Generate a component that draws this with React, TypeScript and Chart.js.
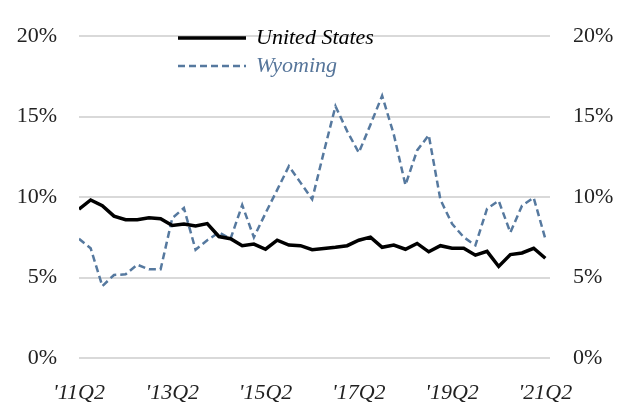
import React, { useEffect, useRef } from "react";
import { Chart, registerables } from "chart.js";

Chart.register(...registerables);

const quarters = [
  "'11Q2", "'11Q3", "'11Q4", "'12Q1", "'12Q2", "'12Q3", "'12Q4", "'13Q1",
  "'13Q2", "'13Q3", "'13Q4", "'14Q1", "'14Q2", "'14Q3", "'14Q4", "'15Q1",
  "'15Q2", "'15Q3", "'15Q4", "'16Q1", "'16Q2", "'16Q3", "'16Q4", "'17Q1",
  "'17Q2", "'17Q3", "'17Q4", "'18Q1", "'18Q2", "'18Q3", "'18Q4", "'19Q1",
  "'19Q2", "'19Q3", "'19Q4", "'20Q1", "'20Q2", "'20Q3", "'20Q4", "'21Q1",
  "'21Q2",
];

const unitedStates = [
  9.25, 9.82, 9.47, 8.82, 8.6, 8.6, 8.72, 8.65, 8.24, 8.33,
  8.2, 8.35, 7.55, 7.41, 6.98, 7.08, 6.76, 7.32, 7.02, 6.98,
  6.73, 6.8, 6.88, 6.98, 7.32, 7.51, 6.88, 7.02, 6.76, 7.12,
  6.6, 6.98, 6.82, 6.82, 6.39, 6.63, 5.69, 6.43, 6.53, 6.82,
  6.2,
];

const wyoming = [
  7.41, 6.82, 4.47, 5.16, 5.2, 5.8, 5.51, 5.51, 8.69, 9.32,
  6.73, 7.32, 7.8, 7.41, 9.51, 7.5, 9.0, 10.45, 11.92, 10.9,
  9.86, 12.8, 15.65, 14.1, 12.76, 14.5, 16.3, 13.9, 10.75, 12.9,
  13.85, 9.84, 8.34, 7.51, 7.0, 9.28, 9.77, 7.8, 9.47, 9.96,
  7.41,
];

const xTickIndexes = [0, 8, 16, 24, 32, 40];
const yTicks = [0, 5, 10, 15, 20];

const seriesNames = ["United States", "Wyoming"];
const seriesColors = ["#000000", "#56799f"];
const legendTextColors = ["#000000", "#56759a"];

const FONT = '"Liberation Serif", Tinos, "Times New Roman", serif';

const legendPlugin = {
  id: "insideLegend",
  afterDraw(chart: any) {
    const ctx = chart.ctx;
    const rows = [38, 66];
    chart.data.datasets.forEach((ds: any, i: number) => {
      const y = rows[i];
      ctx.save();
      ctx.strokeStyle = ds.borderColor;
      ctx.lineWidth = ds.borderWidth;
      ctx.setLineDash(ds.borderDash || []);
      ctx.beginPath();
      ctx.moveTo(178, y);
      ctx.lineTo(246, y);
      ctx.stroke();
      ctx.setLineDash([]);
      ctx.fillStyle = legendTextColors[i];
      ctx.font = `italic 22px ${FONT}`;
      ctx.textBaseline = "middle";
      ctx.textAlign = "left";
      ctx.fillText(ds.label, 256, y);
      ctx.restore();
    });
  },
};

export default function App() {
  const ref = useRef<HTMLCanvasElement>(null);

  useEffect(() => {
    document.body.style.margin = "0";
    let chart: any = null;
    let cancelled = false;
    const build = () => {
      const canvas = ref.current;
      if (!canvas || cancelled) return;
      chart = new Chart(canvas, {
        type: "line",
        data: {
          datasets: [
            {
              label: seriesNames[0],
              data: unitedStates.map((v, i) => ({ x: i, y: v })),
              borderColor: seriesColors[0],
              borderWidth: 3.5,
              pointRadius: 0,
              tension: 0,
              fill: false,
            },
            {
              label: seriesNames[1],
              data: wyoming.map((v, i) => ({ x: i, y: v })),
              borderColor: seriesColors[1],
              borderWidth: 2.5,
              borderDash: [7, 4],
              pointRadius: 0,
              tension: 0,
              fill: false,
            },
          ],
        },
        options: {
          animation: false,
          responsive: false,
          devicePixelRatio: 1,
          layout: { padding: { top: 17, left: 0, right: 0, bottom: 0 } },
          plugins: {
            legend: { display: false },
            tooltip: { enabled: false },
          },
          scales: {
            x: {
              type: "linear",
              min: 0,
              max: 40.4,
              grid: { display: false, drawTicks: false },
              border: { display: false },
              afterBuildTicks: (axis: any) => {
                axis.ticks = xTickIndexes.map((v) => ({ value: v }));
              },
              afterFit: (axis: any) => {
                axis.height = 48;
              },
              ticks: {
                padding: 22,
                autoSkip: false,
                maxRotation: 0,
                color: "#222",
                font: { family: FONT, size: 22, style: "italic" },
                callback: (v: any) => quarters[Number(v)] ?? "",
              },
            },
            y: {
              position: "left",
              min: 0,
              max: 20,
              afterBuildTicks: (axis: any) => {
                axis.ticks = yTicks.map((v) => ({ value: v }));
              },
              afterFit: (axis: any) => {
                axis.width = 79;
              },
              grid: { color: "#d9d9d9", lineWidth: 2, drawTicks: false },
              border: { display: false },
              ticks: {
                padding: 22,
                color: "#222",
                font: { family: FONT, size: 22 },
                callback: (v: any) => `${v}%`,
              },
            },
            y2: {
              position: "right",
              min: 0,
              max: 20,
              afterBuildTicks: (axis: any) => {
                axis.ticks = yTicks.map((v) => ({ value: v }));
              },
              afterFit: (axis: any) => {
                axis.width = 79;
              },
              grid: { display: false, drawTicks: false },
              border: { display: false },
              ticks: {
                padding: 23,
                color: "#222",
                font: { family: FONT, size: 22 },
                callback: (v: any) => `${v}%`,
              },
            },
          },
        },
        plugins: [legendPlugin],
      });
    };
    const fonts: any = (document as any).fonts;
    if (fonts && fonts.load) {
      Promise.all([
        fonts.load('22px "Liberation Serif"'),
        fonts.load('italic 22px "Liberation Serif"'),
      ])
        .catch(() => null)
        .then(build);
    } else {
      build();
    }
    return () => {
      cancelled = true;
      if (chart) chart.destroy();
    };
  }, []);

  return (
    <div style={{ position: "absolute", left: 0, top: 0, width: 629, height: 406 }}>
      <canvas ref={ref} width={629} height={406} />
    </div>
  );
}
